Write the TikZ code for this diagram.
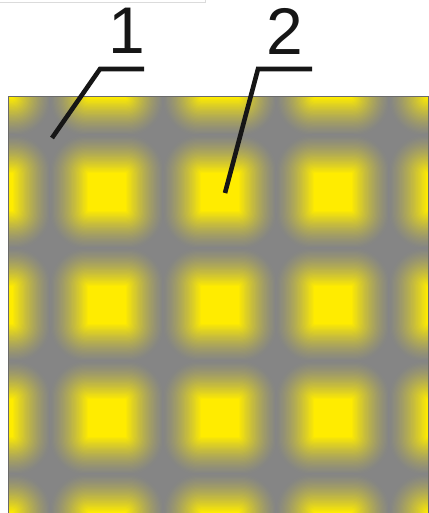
\documentclass[tikz,border=0pt]{standalone}
\usepackage{fontspec}
\setmainfont{Liberation Sans}
\usetikzlibrary{positioning}
\definecolor{spotyellow}{RGB}{255,236,0}
\definecolor{spotgray}{RGB}{133,133,133}
\definecolor{leadblack}{RGB}{22,22,22}
\tikzset{
    % leader line from a number down into the grid
    leader/.style={draw=leadblack, line width=4.6pt, line join=miter},
    % big sans-serif item number
    itemlabel/.style={font=\fontsize{66}{66}\selectfont, inner sep=0pt,
        text=leadblack},
    % frame of the sample
    frameline/.style={draw=spotgray!80!black, line width=1pt},
}

\begin{document}
\begin{tikzpicture}[x=1pt,y=-1pt]
  \useasboundingbox (0,0) rectangle (428,513);
  % edge of the scan at the top
  \draw[black!14, line width=1pt] (0,3) -- (205,3) -- (205,0);
  % grid of blurred yellow spots on grey
  \begin{scope}
    \clip (8,97) rectangle (428,513);
    \fill[spotgray] (8,97) rectangle (428,513);
    \foreach \cx in {-6,107,220,333,446}{
      \foreach \cy in {79,192,305,418,531}{
        \foreach \i in {0,...,32}{
          \pgfmathsetmacro{\t}{\i/32}
          \pgfmathsetmacro{\h}{58-39*\t}
          \pgfmathsetmacro{\mix}{100*\t^1.4}
          \pgfmathsetmacro{\rc}{0.95*(\h-19)+0.5}
          \fill[spotyellow!\mix!spotgray, rounded corners=\rc pt]
            (\cx-\h,\cy-\h) rectangle (\cx+\h,\cy+\h);
        }
      }
    }
  \end{scope}
  \draw[frameline] (8,97) rectangle (428,513);
  % numbers and their leaders
  \node[itemlabel] (lbl1) at (126.5,31) {1};
  \node[itemlabel] (lbl2) at (285,31.5) {2};
  \coordinate (end1) at (144,69);
  \coordinate (knee1) at (100,69);
  \coordinate (tip1) at (52,138);
  \coordinate (end2) at (312,69);
  \coordinate (knee2) at (258,69);
  \coordinate (tip2) at (225,193);
  \draw[leader] (end1) -- (knee1) -- (tip1);
  \draw[leader] (end2) -- (knee2) -- (tip2);
\end{tikzpicture}
\end{document}
